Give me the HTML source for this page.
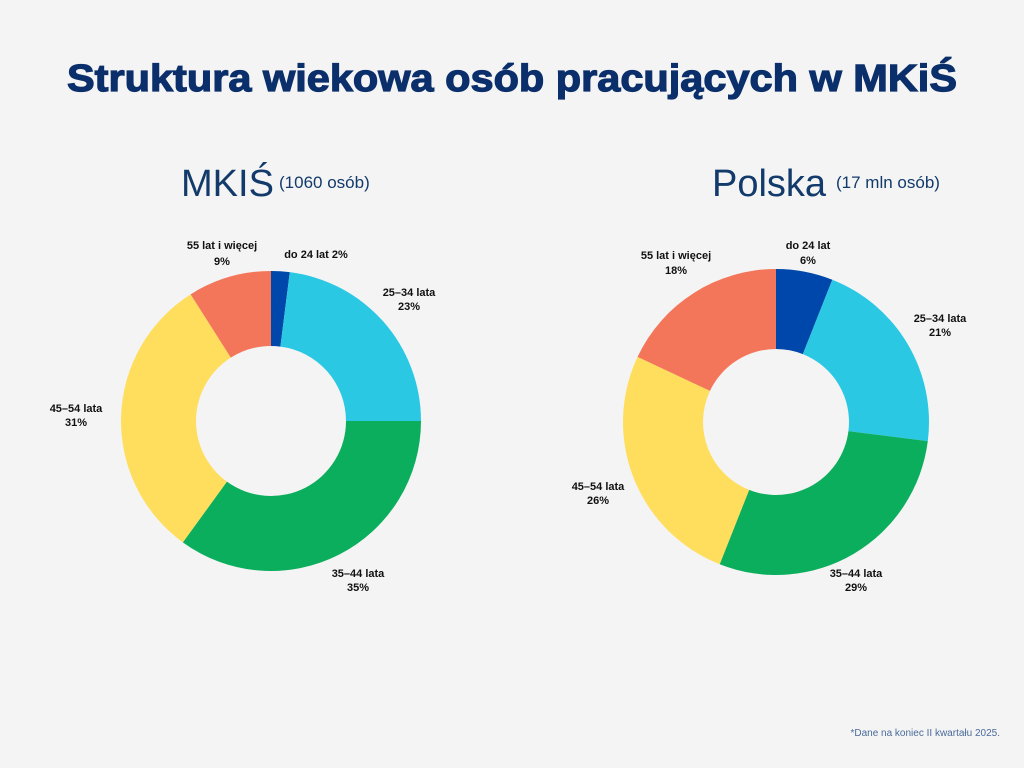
<!DOCTYPE html>
<html><head><meta charset="utf-8"><style>
body{margin:0;background:#f4f4f4;}
svg{display:block}
text{font-family:"Liberation Sans",sans-serif;}
.t{font-weight:900;font-size:38px;fill:#0b2f6b;stroke:#0b2f6b;stroke-width:1.2}
.l{font-weight:bold;font-size:11px;fill:#111}
.h{font-size:38px;fill:#123a6b}
.s{font-size:17px;fill:#123a6b}
</style></head><body>
<svg id="s" width="1024" height="768" viewBox="0 0 1024 768">
<text class="t" x="512" y="91" text-anchor="middle" textLength="890" lengthAdjust="spacingAndGlyphs">Struktura wiekowa osób pracujących w MKiŚ</text>
<text class="h" x="181" y="196" textLength="93" lengthAdjust="spacingAndGlyphs">MKIŚ</text>
<text class="s" x="279" y="188">(1060 osób)</text>
<text class="h" x="712" y="196">Polska</text>
<text class="s" x="836" y="188">(17 mln osób)</text>
<g id="g1"></g><g id="g2"></g>
<g class="l" text-anchor="middle">
<text x="222" y="249">55 lat i więcej</text><text x="222" y="265">9%</text>
<text x="316" y="258">do 24 lat 2%</text>
<text x="409" y="296">25–34 lata</text><text x="409" y="310">23%</text>
<text x="76" y="412">45–54 lata</text><text x="76" y="426">31%</text>
<text x="358" y="577">35–44 lata</text><text x="358" y="591">35%</text>
<text x="676" y="259">55 lat i więcej</text><text x="676" y="274">18%</text>
<text x="808" y="249">do 24 lat</text><text x="808" y="264">6%</text>
<text x="940" y="322">25–34 lata</text><text x="940" y="336">21%</text>
<text x="598" y="490">45–54 lata</text><text x="598" y="504">26%</text>
<text x="856" y="577">35–44 lata</text><text x="856" y="591">29%</text>
</g>
<text x="1000" y="736" text-anchor="end" style="font-size:10px;fill:#4a6a9a">*Dane na koniec II kwartału 2025.</text>
</svg>
<script>
var C=["#0047ab","#2bc8e4","#0bae5c","#fede5c","#f4765a"];
function d(id,cx,cy,R,r,v){var g=document.getElementById(id),a=0,h="";
v.forEach(function(p,i){var b=a+p/100*2*Math.PI;
function P(rr,t){return (cx+rr*Math.sin(t)).toFixed(2)+" "+(cy-rr*Math.cos(t)).toFixed(2)}
var L=(b-a)>Math.PI?1:0;
h+='<path fill="'+C[i]+'" d="M'+P(R,a)+' A'+R+' '+R+' 0 '+L+' 1 '+P(R,b)+' L'+P(r,b)+' A'+r+' '+r+' 0 '+L+' 0 '+P(r,a)+'Z"/>';a=b;});
g.innerHTML=h;}
d("g1",271,421,150,75,[2,23,35,31,9]);
d("g2",776,422,153,73,[6,21,29,26,18]);
</script>
</body></html>
